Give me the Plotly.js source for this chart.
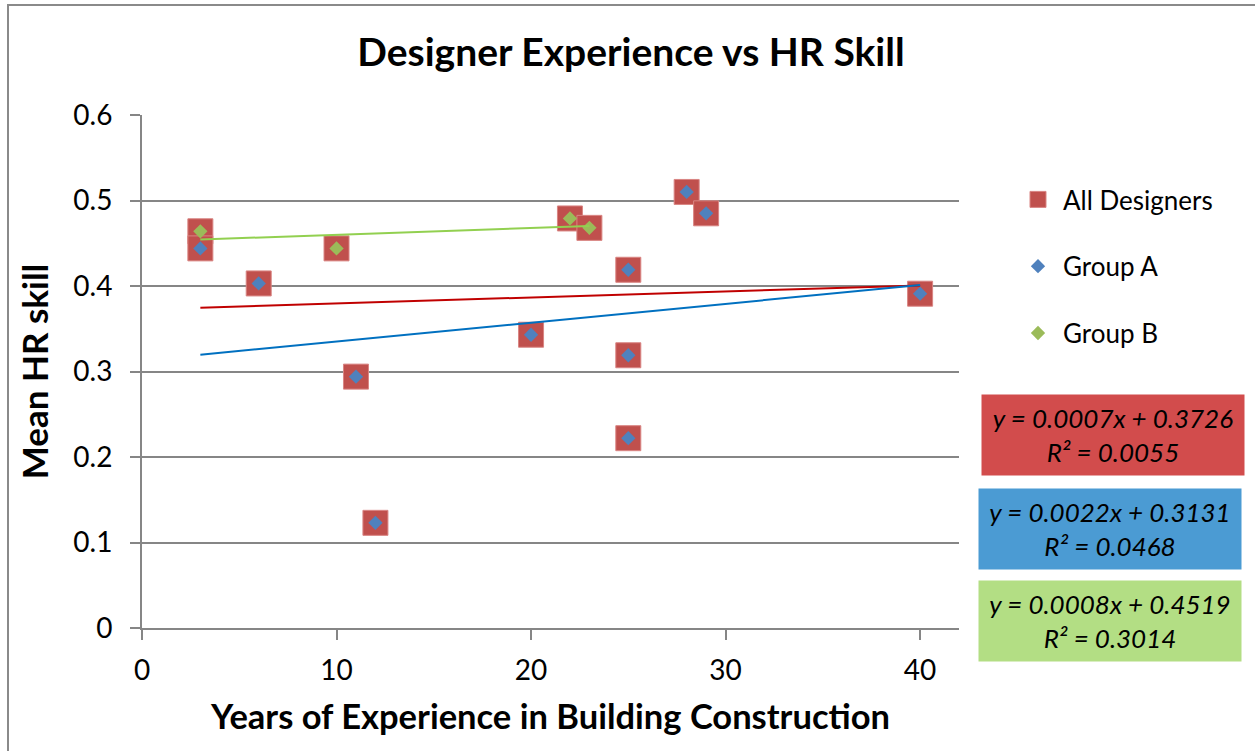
<!DOCTYPE html>
<html><head><meta charset="utf-8">
<script src="https://cdn.plot.ly/plotly-3.0.1.min.js"></script>
<style>
html,body{margin:0;padding:0;background:#fff;overflow:hidden}
#chart{width:1255px;height:751px;position:absolute;left:0;top:0}
#frame{position:absolute;left:7px;top:4px;width:1260px;height:770px;border-left:2px solid #8a8a8a;border-top:2px solid #8a8a8a;pointer-events:none}
</style></head><body>
<div id="chart"></div><div id="frame"></div>
<script>
// ---- data ----
const allX = [3, 3, 6, 10, 11, 12, 20, 22, 23, 25, 25, 25, 28, 29, 40];
const allY = [0.464, 0.444, 0.403, 0.444, 0.294, 0.123, 0.343, 0.479, 0.468, 0.419, 0.319, 0.222, 0.510, 0.485, 0.391];
const groupAX = [3, 6, 11, 12, 20, 25, 25, 25, 28, 29, 40];
const groupAY = [0.444, 0.403, 0.294, 0.123, 0.343, 0.419, 0.319, 0.222, 0.510, 0.485, 0.391];
const groupBX = [3, 10, 22, 23];
const groupBY = [0.464, 0.444, 0.479, 0.468];
const seriesNames = ['All Designers', 'Group A', 'Group B'];
const trendSlopes = [0.0007, 0.0022, 0.0008];
const trendIntercepts = [0.3726, 0.3131, 0.4519];
const trendR2 = ['0.0055', '0.0468', '0.3014'];
const xTickVals = [0, 10, 20, 30, 40];
const yTickVals = [0, 0.1, 0.2, 0.3, 0.4, 0.5, 0.6];

// ---- styles ----
const FONT = 'Lato, "Open Sans", sans-serif';
const markerColors = ['#C0504D', '#4F81BD', '#9BBB59'];
const lineColors = ['#C00000', '#0070C0', '#92D050'];
const boxColors = ['#D24C4C', '#4B9BD3', '#B3DE84'];

const xs = [allX, groupAX, groupBX];

const traces = [
  {x: allX, y: allY, name: seriesNames[0], type: 'scatter', mode: 'markers', legendgroup: 'g0',
   marker: {symbol: 'square', size: 25, color: markerColors[0], line: {color: '#D98583', width: 1}}},
  {x: groupAX, y: groupAY, name: seriesNames[1], type: 'scatter', mode: 'markers', legendgroup: 'g1',
   marker: {symbol: 'diamond', size: 11, color: markerColors[1]}},
  {x: groupBX, y: groupBY, name: seriesNames[2], type: 'scatter', mode: 'markers', legendgroup: 'g2',
   marker: {symbol: 'diamond', size: 11, color: markerColors[2]}}
];
for (let i = 0; i < 3; i++) {
  const x0 = Math.min(...xs[i]), x1 = Math.max(...xs[i]);
  traces.push({x: [x0, x1], y: [trendSlopes[i] * x0 + trendIntercepts[i], trendSlopes[i] * x1 + trendIntercepts[i]],
    type: 'scatter', mode: 'lines', showlegend: false, hoverinfo: 'skip',
    line: {color: lineColors[i], width: 2}});
}

const L = 142, R = 959, T = 115, B = 628, W = 1255, H = 751;
const pw = R - L, ph = B - T;
const boxCenters = [[1113, 435], [1110, 529], [1110, 621]];
const annotations = [];
for (let i = 0; i < 3; i++) {
  annotations.push({
    xref: 'paper', yref: 'paper',
    x: (boxCenters[i][0] - L) / pw, y: (B - boxCenters[i][1]) / ph,
    xanchor: 'center', yanchor: 'middle', showarrow: false,
    text: '<i>y = ' + trendSlopes[i].toFixed(4) + 'x + ' + trendIntercepts[i].toFixed(4) + '<br>R² = ' + trendR2[i] + '</i>',
    bgcolor: boxColors[i], width: 262, height: 80, borderpad: 0,
    font: {family: FONT, size: 26, color: '#000'}
  });
}

const layout = {
  width: W, height: H,
  margin: {l: L, r: W - R, t: T, b: H - B, pad: 0},
  paper_bgcolor: '#fff', plot_bgcolor: '#fff',
  font: {family: FONT, color: '#000'},
  title: {text: '<b>Designer Experience vs HR Skill</b>', x: 631 / W, xref: 'container', xanchor: 'center', y: 1 - 52 / H, yref: 'container', yanchor: 'middle',
    font: {family: FONT, size: 39, color: '#000'}},
  xaxis: {range: [0, 42], tickvals: xTickVals, ticktext: xTickVals.map(String), showgrid: false, zeroline: false,
    showline: true, linecolor: '#868686', linewidth: 2, ticks: 'outside', ticklen: 10, tickwidth: 2, tickcolor: '#868686',
    tickfont: {family: FONT, size: 28, color: '#000'}, ticklabelstandoff: 6,
    title: {text: '<b>Years of Experience in Building Construction</b>', font: {family: FONT, size: 34.5, color: '#000'}, standoff: 20}},
  yaxis: {range: [0, 0.6], tickvals: yTickVals, ticktext: yTickVals.map(v => String(v)), showgrid: true, gridcolor: '#868686', gridwidth: 2,
    zeroline: false, showline: true, linecolor: '#868686', linewidth: 2, ticks: 'outside', ticklen: 10, tickwidth: 2, tickcolor: '#868686',
    tickfont: {family: FONT, size: 28, color: '#000'}, ticklabelstandoff: 12,
    title: {text: '<b>Mean HR skill</b>', font: {family: FONT, size: 35, color: '#000'}, standoff: 14}},
  showlegend: true,
  legend: {x: (1013 - L) / pw, xanchor: 'left', y: (B - 176) / ph, yanchor: 'top', bgcolor: 'rgba(0,0,0,0)',
    font: {family: FONT, size: 26, color: '#000'}, tracegroupgap: 30, traceorder: 'grouped', itemwidth: 40},
  annotations: annotations
};

Plotly.newPlot('chart', traces, layout, {displayModeBar: false, staticPlot: true});
</script>
</body></html>
